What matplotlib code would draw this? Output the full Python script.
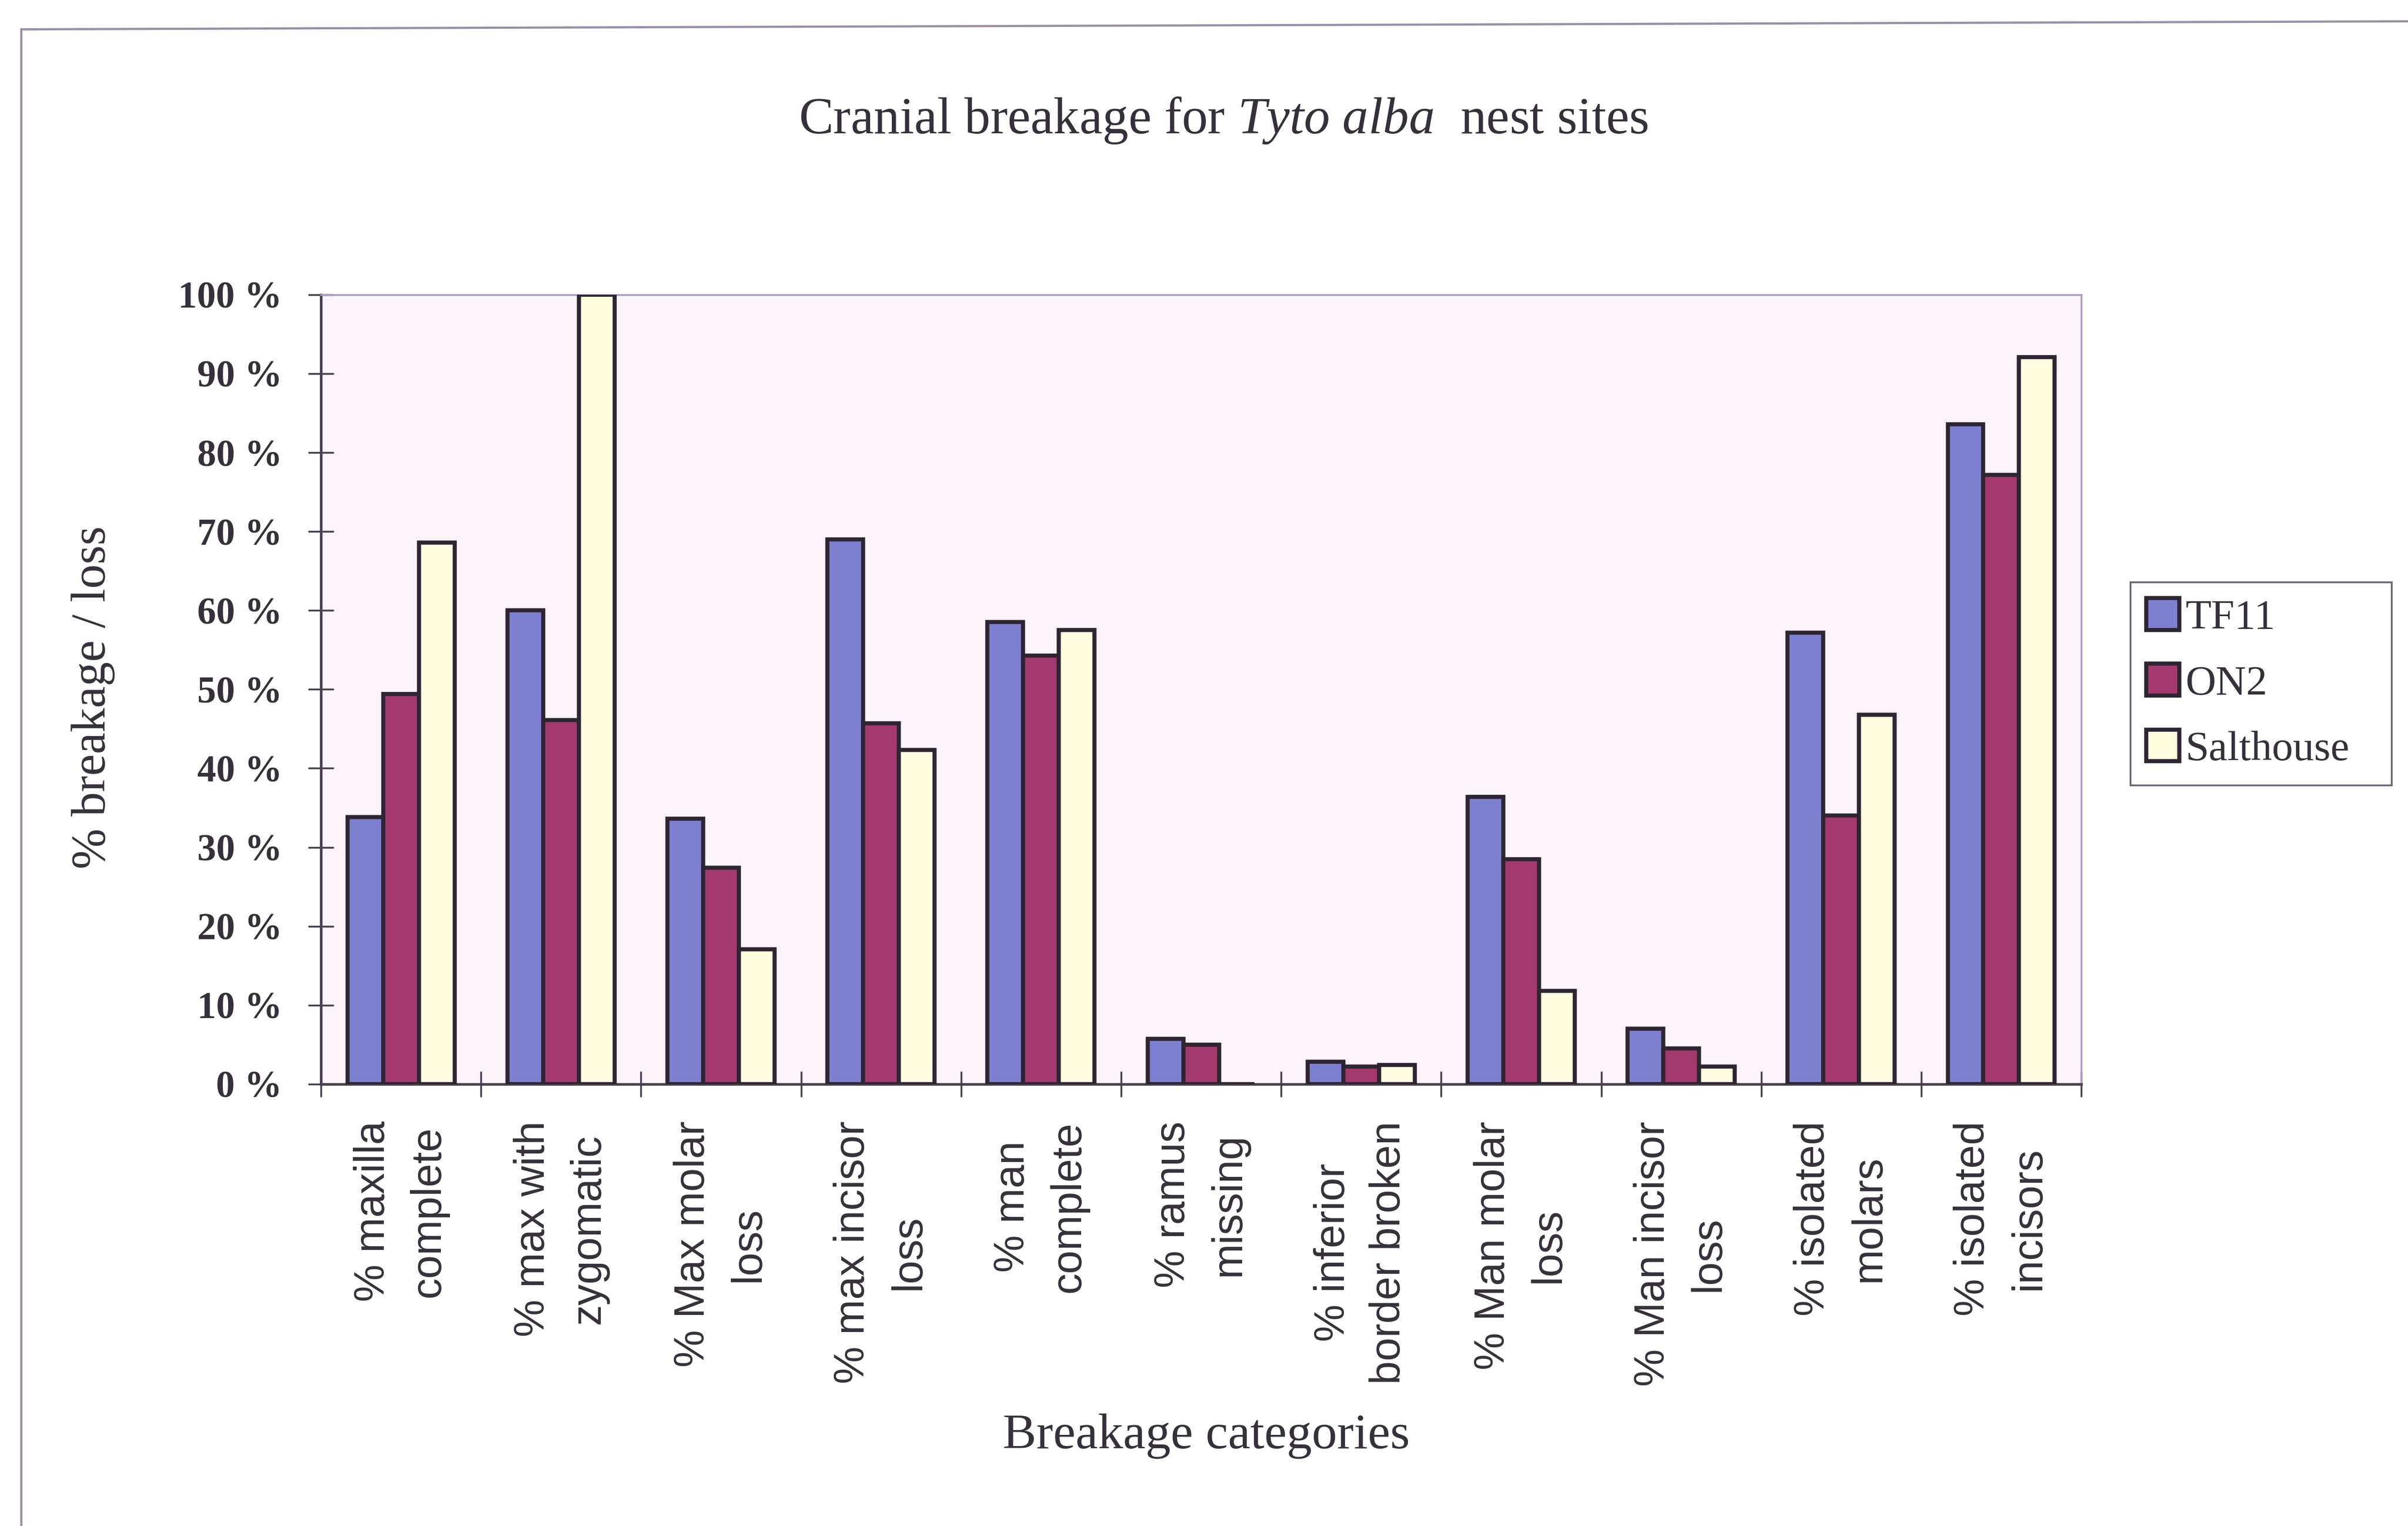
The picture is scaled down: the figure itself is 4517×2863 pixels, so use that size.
import matplotlib
matplotlib.use("Agg")
import matplotlib.pyplot as plt
import numpy as np
from matplotlib.lines import Line2D

plt.rcParams['mathtext.fontset'] = 'custom'
plt.rcParams['mathtext.rm'] = 'Liberation Serif'
plt.rcParams['mathtext.it'] = 'Liberation Serif:italic'

# data
categories = ["% maxilla\ncomplete", "% max with\nzygomatic", "% Max molar\nloss",
              "% max incisor\nloss", "% man\ncomplete", "% ramus\nmissing",
              "% inferior\nborder broken", "% Man molar\nloss", "% Man incisor\nloss",
              "% isolated\nmolars", "% isolated\nincisors"]
series_names = ["TF11", "ON2", "Salthouse"]
tf11 = [33.8, 60.0, 33.6, 69.0, 58.5, 5.7, 2.8, 36.4, 7.0, 57.2, 83.6]
on2 = [49.4, 46.1, 27.4, 45.7, 54.3, 5.0, 2.2, 28.5, 4.5, 34.0, 77.2]
salthouse = [68.6, 100.0, 17.1, 42.3, 57.5, 0.0, 2.4, 11.8, 2.2, 46.8, 92.1]
yticks = [0, 10, 20, 30, 40, 50, 60, 70, 80, 90, 100]

colors = ['#7d80d0', '#a3396f', '#fffde0']
edge = '#2e2533'
text_col = '#35303a'

fig = plt.figure(figsize=(45.17, 28.63), dpi=100)
ax = fig.add_axes([0.1333, 0.2896, 0.7310, 0.5173])
ax.set_facecolor('#fcf4fb')

x = np.arange(len(categories))
w = 0.223
for i, vals in enumerate([tf11, on2, salthouse]):
    ax.bar(x + (i - 1) * w, vals, w, color=colors[i], edgecolor=edge,
           linewidth=5.5, label=series_names[i], zorder=3)

ax.set_xlim(-0.5, len(categories) - 0.5)
ax.set_ylim(0, 100)

# y axis
ax.set_yticks(yticks)
ax.set_yticklabels([f"{v} %" for v in yticks], fontfamily='Liberation Serif',
                   fontweight='bold', fontsize=51, color=text_col)
ax.tick_params(axis='y', direction='inout', length=35, width=2.5, color='#4a4050', pad=35)

# x axis: boundary ticks + centered labels
ax.set_xticks(np.arange(-0.5, len(categories), 1.0))
ax.set_xticklabels([])
ax.tick_params(axis='x', which='major', direction='inout', length=35, width=2.5, color='#4a4050')
ax.set_xticks(x, minor=True)
ax.set_xticklabels(categories, minor=True, rotation=90, fontfamily='Liberation Sans',
                   fontsize=57, color=text_col, va='top', ha='center',
                   multialignment='center', linespacing=1.5)
ax.tick_params(axis='x', which='minor', length=0, pad=50)

for s in ['left', 'bottom']:
    ax.spines[s].set_color('#4a4050')
    ax.spines[s].set_linewidth(3.5)
for s in ['top', 'right']:
    ax.spines[s].set_color('#ab9dc0')
    ax.spines[s].set_linewidth(2.5)

ax.set_ylabel("% breakage / loss", fontfamily='Liberation Serif', fontsize=66, color=text_col)
ax.yaxis.set_label_coords(-0.117, 0.49)
ax.set_xlabel("Breakage categories", fontfamily='Liberation Serif', fontsize=68, color=text_col)
ax.xaxis.set_label_coords(0.503, -0.446)
ax.xaxis.label.set_va('center')

fig.text(0.508, 0.921, r"Cranial breakage for $\mathit{Tyto\ alba}$  nest sites",
         fontfamily='Liberation Serif', fontsize=70, color=text_col, ha='center', va='center')

leg = ax.legend(loc='upper left', bbox_to_anchor=(0.8847, 0.4887, 0.1085, 0.1299),
                bbox_transform=fig.transFigure, mode='expand', fancybox=False,
                prop={'family': 'Liberation Serif', 'size': 57},
                handlelength=0.78, handleheight=0.78, handletextpad=0.15,
                labelspacing=0.62, borderpad=0.38, borderaxespad=0)
leg.get_frame().set_edgecolor('#4a4050')
leg.get_frame().set_linewidth(2.5)
for t in leg.get_texts():
    t.set_color(text_col)

# outer chart border from the scan
fig.add_artist(Line2D([40 / 4517, 40 / 4517], [0, 1 - 55 / 2863], transform=fig.transFigure,
                      color='#9a8fa8', linewidth=3))
fig.add_artist(Line2D([40 / 4517, 1], [1 - 55 / 2863, 1 - 40 / 2863], transform=fig.transFigure,
                      color='#9a8fa8', linewidth=3))

fig.savefig("out.png", dpi=100)
